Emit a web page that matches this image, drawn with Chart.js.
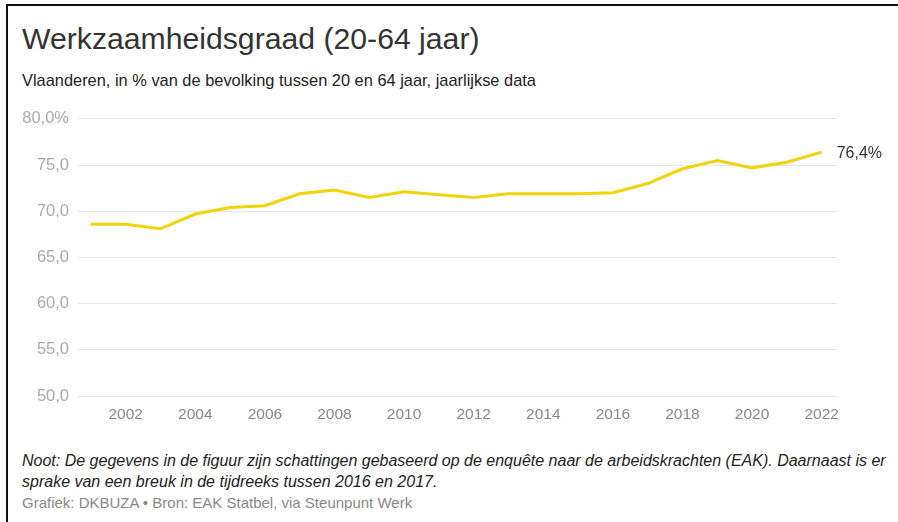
<!DOCTYPE html>
<html>
<head>
<meta charset="utf-8">
<script src="https://cdn.jsdelivr.net/npm/chart.js@4"></script>
<style>
  html, body { margin: 0; padding: 0; background: #fff; }
  body { width: 898px; height: 522px; overflow: hidden; position: relative; font-family: "Liberation Sans", Arial, sans-serif; }
  .frame { position: absolute; left: 6px; top: 4px; right: 0; bottom: 0; border-left: 2px solid #111; border-top: 2px solid #111; }
  .title { position: absolute; left: 22px; top: 22px; font-size: 30.2px; color: #333; white-space: nowrap; }
  .subtitle { position: absolute; left: 22px; top: 71px; font-size: 16.4px; color: #222; white-space: nowrap; }
  .chart-wrap { position: absolute; left: 8px; top: 100px; width: 890px; height: 330px; }
  .note { position: absolute; left: 22px; top: 450px; width: 874px; font-size: 16px; line-height: 21px; font-style: italic; color: #222; }
  .source { position: absolute; left: 22px; top: 494px; font-size: 15px; color: #888; white-space: nowrap; }
</style>
</head>
<body>
<div class="frame"></div>
<div class="title">Werkzaamheidsgraad (20-64 jaar)</div>
<div class="subtitle">Vlaanderen, in % van de bevolking tussen 20 en 64 jaar, jaarlijkse data</div>
<div class="chart-wrap"><canvas id="chart"></canvas></div>
<div class="note">Noot: De gegevens in de figuur zijn schattingen gebaseerd op de enquête naar de arbeidskrachten (EAK). Daarnaast is er sprake van een breuk in de tijdreeks tussen 2016 en 2017.</div>
<div class="source">Grafiek: DKBUZA • Bron: EAK Statbel, via Steunpunt Werk</div>

<script>
// Werkzaamheidsgraad Vlaanderen 20-64 jaar
const years = [2001, 2002, 2003, 2004, 2005, 2006, 2007, 2008, 2009, 2010, 2011,
  2012, 2013, 2014, 2015, 2016, 2017, 2018, 2019, 2020, 2021, 2022];
const rate = [68.6, 68.6, 68.1, 69.7, 70.4, 70.6, 71.9, 72.3, 71.5, 72.1, 71.8,
  71.5, 71.9, 71.9, 71.9, 72.0, 73.0, 74.6, 75.5, 74.7, 75.3, 76.4];
const xTicks = [2002, 2004, 2006, 2008, 2010, 2012, 2014, 2016, 2018, 2020, 2022];
const yTicks = [50, 55, 60, 65, 70, 75, 80];

const FONT = '"Liberation Sans", Arial, sans-serif';
const fmtNum = v => v.toFixed(1).replace('.', ',');

// label next to the last point
const endLabel = {
  id: 'endLabel',
  afterDatasetsDraw(chart) {
    const meta = chart.getDatasetMeta(0);
    const pt = meta.data[meta.data.length - 1];
    const ctx = chart.ctx;
    ctx.save();
    ctx.font = '16px ' + FONT;
    ctx.fillStyle = '#333';
    ctx.textBaseline = 'middle';
    ctx.fillText(fmtNum(rate[rate.length - 1]) + '%', pt.x + 15, pt.y + 1);
    ctx.restore();
  }
};

new Chart(document.getElementById('chart'), {
  type: 'line',
  data: {
    datasets: [{
      data: years.map((y, i) => ({ x: y, y: rate[i] })),
      borderColor: '#f0d30a',
      borderWidth: 3,
      pointRadius: 0,
      tension: 0,
      fill: false,
    }]
  },
  options: {
    responsive: true, maintainAspectRatio: false, animation: false,
    layout: { padding: { top: 16, right: 61, left: 0, bottom: 0 } },
    plugins: { legend: { display: false }, tooltip: { enabled: false } },
    scales: {
      x: {
        type: 'linear', min: 2000.63, max: 2022.44,
        afterBuildTicks: s => { s.ticks = xTicks.map(v => ({ value: v })); },
        afterFit: s => { s.height = 34; },
        grid: { display: false, drawTicks: false },
        border: { display: false },
        ticks: { color: '#888', padding: 9, maxRotation: 0, font: { size: 15.5, family: FONT }, callback: v => String(v) },
      },
      y: {
        min: 50, max: 80,
        afterBuildTicks: s => { s.ticks = yTicks.map(v => ({ value: v })); },
        afterFit: s => { s.width = 70; },
        grid: { color: '#e6e6e6', lineWidth: 1, drawTicks: false },
        border: { display: false },
        ticks: { color: '#aaa', padding: 9, font: { size: 16.5, family: FONT }, callback: v => v === 80 ? fmtNum(v) + '%' : fmtNum(v) },
      }
    }
  },
  plugins: [endLabel]
});
</script>
</body>
</html>
